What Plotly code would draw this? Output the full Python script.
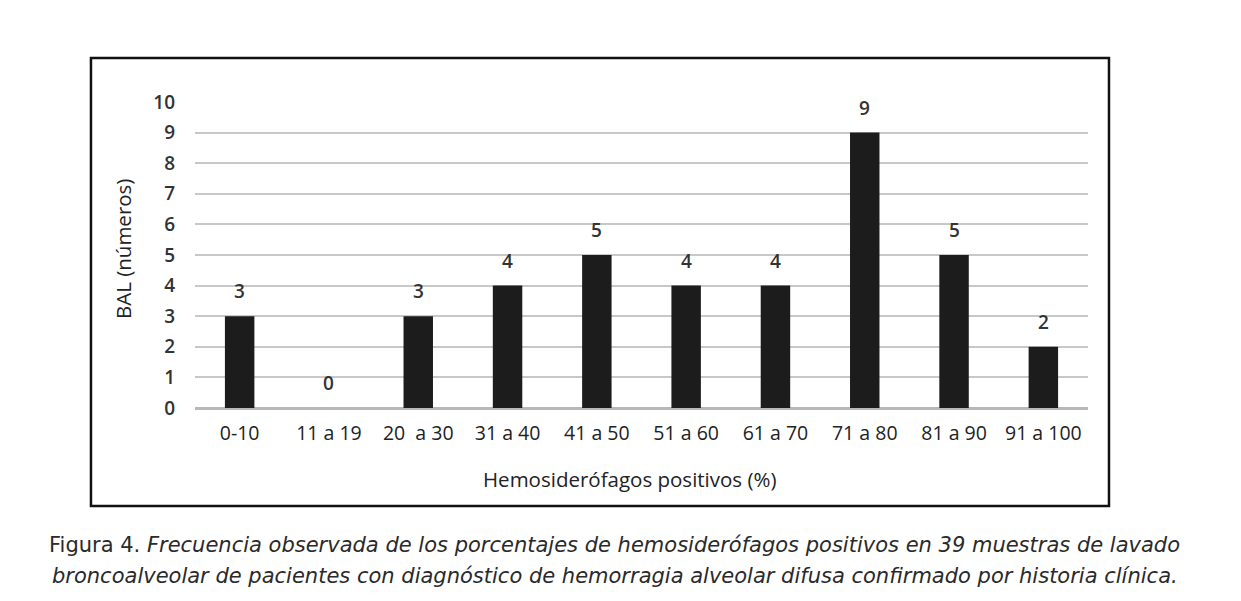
import plotly.graph_objects as go

categories = ["0-10", "11 a 19", "20  a 30", "31 a 40", "41 a 50", "51 a 60",
              "61 a 70", "71 a 80", "81 a 90", "91 a 100"]
values = [3, 0, 3, 4, 5, 4, 4, 9, 5, 2]
y_ticks = list(range(0, 11))

fig = go.Figure()
fig.add_trace(go.Bar(
    x=categories, y=values,
    marker=dict(color="#1c1c1c", line=dict(width=0)),
    width=0.33,
    hoverinfo="skip",
))

for c, v in zip(categories, values):
    fig.add_annotation(x=c, y=v, text=str(v), showarrow=False,
                       yanchor="middle", yshift=25,
                       font=dict(family="Open Sans", size=19, color="#333333", weight=600))

fig.update_layout(
    width=1241, height=601,
    margin=dict(l=187, r=161, t=94, b=201),
    paper_bgcolor="white", plot_bgcolor="white",
    showlegend=False,
    xaxis=dict(
        type="category",
        showgrid=False, zeroline=False,
        showline=False,
        ticks="", ticklabelstandoff=11,
        tickfont=dict(family="Open Sans", size=19.5, color="#222222"),
    ),
    yaxis=dict(
        range=[0, 10], tickvals=y_ticks,
        showgrid=True, gridcolor="#c8c8c8", gridwidth=2,
        zeroline=True, zerolinecolor="#b8b8b8", zerolinewidth=2.5,
        ticks="", ticklabelstandoff=19,
        tickfont=dict(family="Open Sans", size=19, color="#333333", weight=600),
    ),
)

# axis titles
fig.add_annotation(xref="paper", yref="paper", x=0.487, y=-0.232,
                   xanchor="center", yanchor="middle", showarrow=False,
                   text="Hemosiderófagos positivos (%)",
                   font=dict(family="Open Sans", size=20.5, color="#222222"))
fig.add_annotation(xref="paper", yref="paper", x=-0.0806, y=0.5196,
                   xanchor="center", yanchor="middle", showarrow=False,
                   textangle=-90, text="BAL (números)",
                   font=dict(family="Open Sans", size=20.5, color="#222222"))

fig.add_shape(type="rect", xref="paper", yref="paper",
              x0=-0.1165, x1=1.0235, y0=-0.3203, y1=1.1438,
              line=dict(color="#111111", width=2.5), fillcolor="rgba(0,0,0,0)")

fig.add_annotation(
    xref="paper", yref="paper", x=0.4703, y=-0.4477, yanchor="middle",
    showarrow=False, align="center",
    text="Figura 4. <i>Frecuencia observada de los porcentajes de hemosiderófagos positivos en 39 muestras de lavado</i>",
    font=dict(family="DejaVu Sans", size=21, color="#2a2a2a"))
fig.add_annotation(
    xref="paper", yref="paper", x=0.4703, y=-0.5477, yanchor="middle",
    showarrow=False, align="center",
    text="<i>broncoalveolar de pacientes con diagnóstico de hemorragia alveolar difusa confirmado por historia clínica.</i>",
    font=dict(family="DejaVu Sans", size=21, color="#2a2a2a"))

fig.write_html("out.html")
